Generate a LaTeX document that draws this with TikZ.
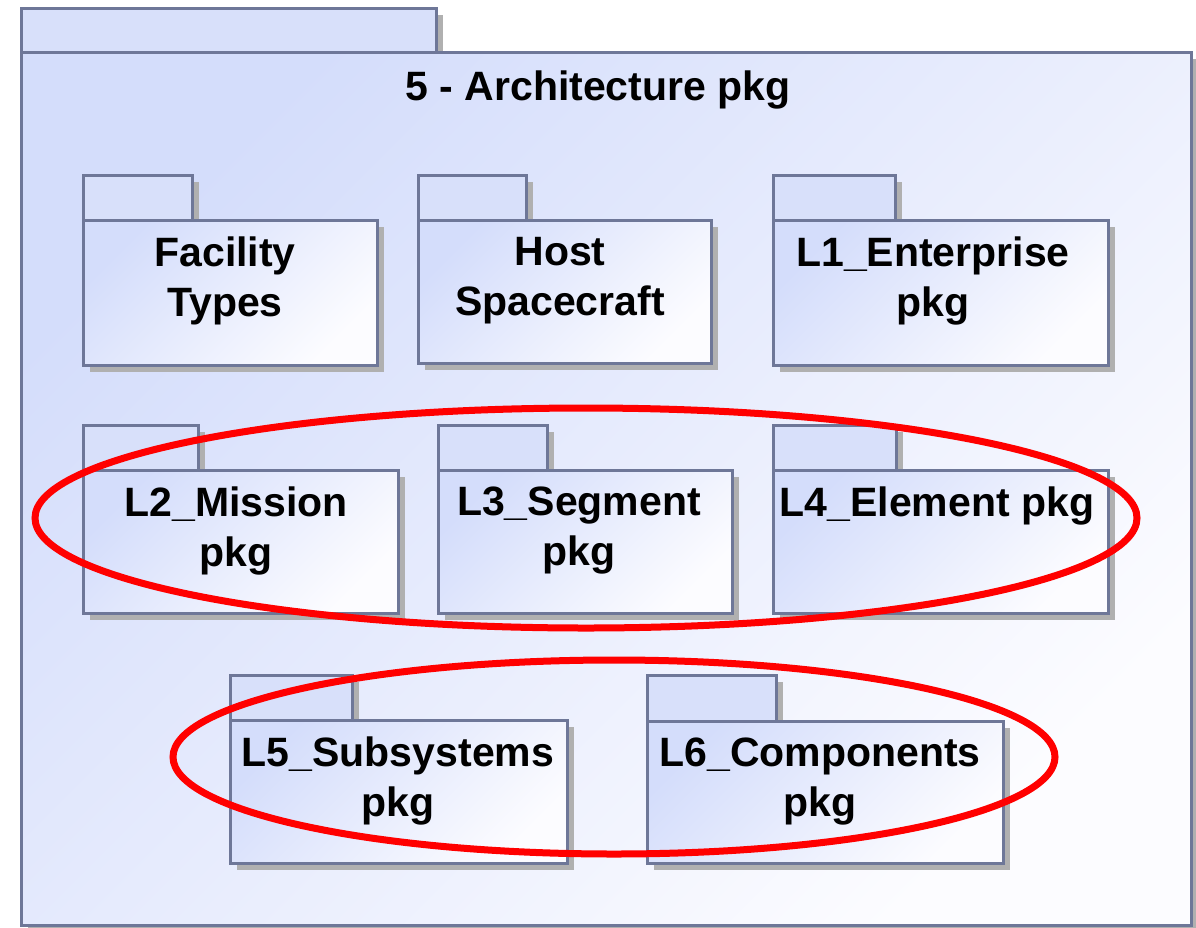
\documentclass[tikz,border=0pt]{standalone}
\usepackage{fontspec}
\setmainfont{Liberation Sans}
\usepackage{xcolor}
\usetikzlibrary{positioning}
\definecolor{pkLine}{RGB}{110,119,152}
\definecolor{pkBlue}{RGB}{212,221,251}
\definecolor{pkTab}{RGB}{216,224,250}
\definecolor{pkPale}{RGB}{252,252,255}
\definecolor{pkShadow}{RGB}{176,176,176}
\definecolor{pkRed}{RGB}{255,0,0}
\tikzset{
  pkbody/.style={draw=pkLine, line width=3pt, top color=pkBlue, bottom color=pkPale, shading angle=45},
  pktab/.style={draw=pkLine, line width=3pt, fill=pkTab},
  pkshadow/.style={fill=pkShadow},
  pklabel/.style={font=\bfseries\fontsize{41}{50}\selectfont, align=center, anchor=north, inner sep=0pt},
  ring/.style={draw=pkRed, line width=7pt}
}

\begin{document}
\begin{tikzpicture}[x=1pt, y=-1pt]
  \useasboundingbox (0,0) rectangle (1196,927);
  % outer package
  \fill[pkshadow] (28,15) rectangle (443,59);
  \fill[pkshadow] (28,59) rectangle (1198,933);
  \draw[pktab] (21,8) rectangle (436,52);
  \draw[pkbody] (21,52) rectangle (1191,925);
  \node[font=\bfseries\fontsize{41}{50}\selectfont, anchor=base] (title) at (598,100) {5 - Architecture pkg};
  % inner packages: left/right/tab right/tab top/body top/bottom
  \foreach \xa/\xb/\xt/\ya/\yt/\yb in {
    83/377/192/175/220/365,
    418/711/526/175/220/363,
    773/1108/895/175/220/365,
    83/398/198/425/470/613,
    438/732/547/425/470/613,
    773/1108/896/425/470/613,
    230/567/352/675/720/863,
    647/1003/776/675/721/863
  } {
    \fill[pkshadow] (\xa+7,\ya+7) rectangle (\xt+7,\yt+7);
    \fill[pkshadow] (\xa+7,\yt+7) rectangle (\xb+7,\yb+7);
    \draw[pktab] (\xa,\ya) rectangle (\xt,\yt);
    \draw[pkbody] (\xa,\yt) rectangle (\xb,\yb);
  }
  \node[pklabel] (fac)  at (225,237) {Facility\\Types};
  \node[pklabel] (host) at (560,237) {Host\\Spacecraft};
  \node[pklabel] (ent)  at (933,237) {L1\_Enterprise\\pkg};
  \node[pklabel] (mis)  at (236,487) {L2\_Mission\\pkg};
  \node[pklabel] (seg)  at (579,487) {L3\_Segment\\pkg};
  \node[pklabel] (ele)  at (937,487) {L4\_Element pkg};
  \node[pklabel] (sub)  at (398,737) {L5\_Subsystems\\pkg};
  \node[pklabel] (cmp)  at (820,738) {L6\_Components\\pkg};
  % highlight rings
  \draw[ring] (586,518) ellipse [x radius=551, y radius=110];
  \draw[ring] (614,757) ellipse [x radius=441, y radius=97];
\end{tikzpicture}
\end{document}
